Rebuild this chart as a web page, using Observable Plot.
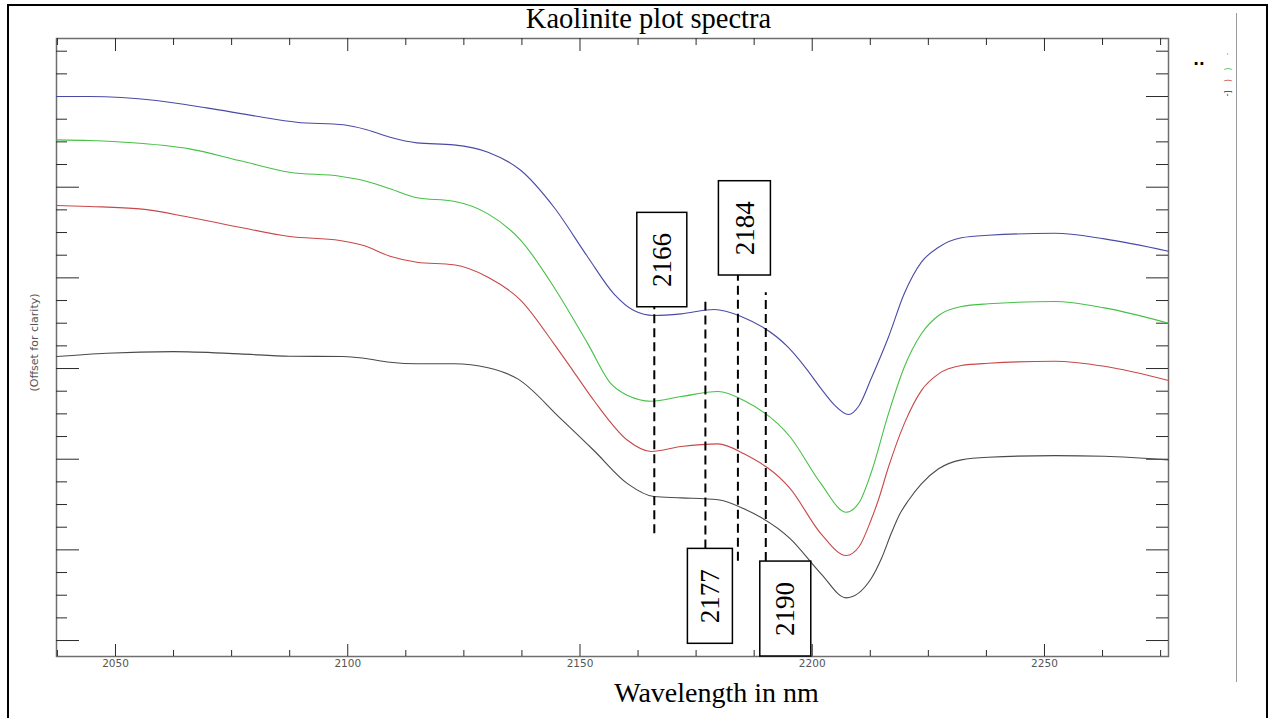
<!DOCTYPE html>
<html>
<head>
<meta charset="utf-8">
<script src="https://cdn.jsdelivr.net/npm/d3@7"></script>
<script src="https://cdn.jsdelivr.net/npm/@observablehq/plot@0.6"></script>
<style>
  html, body { margin: 0; padding: 0; background: #fff; overflow: hidden; }
  #chart { position: relative; width: 1273px; height: 718px; }
  #chart svg { position: absolute; left: 0; top: 0; }
  .border { position: absolute; left: 7px; top: 4px; width: 1257px; height: 740px; border: 2px solid #000; }
  .sep { position: absolute; left: 1236px; top: 13px; width: 1px; height: 669px; background: #9a9a9a; }
</style>
</head>
<body>
<div id="chart"></div>
<script>
// Kaolinite reflectance spectra (stacked with an offset), wavelength in nm
const s1Nm  = [2037.3, 2044.4, 2058.8, 2069.6, 2080.4, 2089.0, 2099.1, 2104.1, 2109.1, 2114.9, 2122.8, 2130.2, 2137.3, 2144.4, 2151.7, 2157.3, 2161.6, 2165.9, 2171.8, 2178.9, 2184.7, 2194.8, 2198.7, 2201.9, 2204.7, 2207.8, 2210.1, 2212.7, 2216.4, 2219.8, 2223.5, 2227.2, 2232.1, 2237.9, 2252.2, 2262.9, 2276.7];
const s1Val = [0.800, 0.800, 0.7956, 0.7875, 0.7783, 0.7717, 0.7688, 0.7633, 0.7551, 0.7489, 0.7467, 0.7386, 0.7184, 0.6779, 0.6228, 0.5824, 0.5640, 0.5585, 0.5603, 0.5651, 0.5574, 0.5235, 0.5000, 0.4779, 0.4603, 0.4493, 0.4592, 0.4890, 0.5345, 0.5824, 0.6173, 0.6338, 0.6442, 0.6470, 0.6492, 0.6430, 0.6294];

const s2Nm  = [2037.3, 2044.4, 2055.2, 2065.9, 2076.7, 2087.5, 2098.3, 2103.4, 2109.1, 2114.9, 2122.8, 2130.2, 2137.3, 2144.4, 2151.7, 2156.7, 2160.3, 2165.3, 2171.8, 2179.7, 2185.3, 2195.3, 2201.9, 2207.3, 2210.1, 2212.7, 2216.4, 2219.8, 2223.5, 2227.2, 2232.1, 2237.9, 2252.2, 2262.9, 2276.7];
const s2Val = [0.7522, 0.7515, 0.7485, 0.7423, 0.7294, 0.7165, 0.7121, 0.7074, 0.6982, 0.6883, 0.6845, 0.6706, 0.6412, 0.5897, 0.5272, 0.4831, 0.4702, 0.4639, 0.4691, 0.4746, 0.4647, 0.4242, 0.3728, 0.3415, 0.3522, 0.3853, 0.4500, 0.5014, 0.5383, 0.5585, 0.5684, 0.5714, 0.5739, 0.5669, 0.5500];

const s3Nm  = [2037.3, 2044.4, 2055.2, 2065.9, 2076.7, 2087.5, 2098.3, 2103.4, 2109.1, 2114.9, 2122.8, 2130.2, 2137.3, 2144.4, 2148.7, 2153.0, 2160.3, 2165.3, 2171.8, 2179.7, 2185.3, 2195.3, 2201.9, 2207.3, 2210.1, 2212.7, 2214.2, 2216.4, 2219.8, 2223.5, 2227.2, 2232.1, 2237.9, 2252.2, 2262.9, 2276.7];
const s3Val = [0.6798, 0.6787, 0.6761, 0.6669, 0.6558, 0.6456, 0.6412, 0.6357, 0.6239, 0.6173, 0.6144, 0.6007, 0.5750, 0.5272, 0.4961, 0.4647, 0.4206, 0.4085, 0.4140, 0.4169, 0.4059, 0.3673, 0.3177, 0.2938, 0.3037, 0.3335, 0.3544, 0.3911, 0.4390, 0.4757, 0.4941, 0.5033, 0.5058, 0.5081, 0.5025, 0.4868];

const s4Nm  = [2037.3, 2048.1, 2062.5, 2076.7, 2087.5, 2099.1, 2103.4, 2109.1, 2114.9, 2122.8, 2130.2, 2136.6, 2145.9, 2153.0, 2160.3, 2165.9, 2171.8, 2179.7, 2185.3, 2195.3, 2201.9, 2207.3, 2212.7, 2214.9, 2217.0, 2218.8, 2220.7, 2223.5, 2227.2, 2232.1, 2237.9, 2252.2, 2262.9, 2276.7];
const s4Val = [0.5132, 0.5169, 0.5187, 0.5162, 0.5136, 0.5132, 0.5114, 0.5069, 0.5052, 0.5052, 0.5008, 0.4886, 0.4445, 0.4096, 0.3728, 0.3588, 0.3574, 0.3552, 0.3453, 0.3122, 0.2736, 0.2471, 0.2684, 0.2904, 0.3180, 0.3390, 0.3544, 0.3728, 0.3894, 0.3993, 0.4022, 0.4040, 0.4033, 0.3993];

// Absorption features marked on the plot
const featureNm = [2166, 2177, 2184, 2190];

// Axis ticks
const xTickLabels = [2050, 2100, 2150, 2200, 2250];
const yMajorTicks = [0.2, 0.3, 0.4, 0.5, 0.6, 0.7, 0.8];

const titleText = "Kaolinite plot spectra";
const xTitle = "Wavelength in nm";
const yTitle = "(Offset for clarity)";

// ---- layout ----
const W = 1273, H = 718;
const M = {top: 38, right: 105, bottom: 62, left: 56};
const frameW = W - M.left - M.right, frameH = H - M.top - M.bottom;
const xDomain = [2037.3, 2276.7], yDomain = [0.1824, 0.8640];
const pxPerNm = frameW / (xDomain[1] - xDomain[0]);

const series = [
  {nm: s1Nm, val: s1Val, color: "#4a4aa6"},
  {nm: s2Nm, val: s2Val, color: "#46c046"},
  {nm: s3Nm, val: s3Val, color: "#c84848"},
  {nm: s4Nm, val: s4Val, color: "#4a4a4a"}
];

// per-feature annotation layout: dashed line extent, label box extent, box offset/width (px)
const featureLayout = [
  {line: [0.3177, 0.5676], box: [0.5676, 0.6717], dx: 8,  w: 50},
  {line: [0.3011, 0.5731], box: [0.1964, 0.3011], dx: 5,  w: 45},
  {line: [0.2875, 0.6026], box: [0.6026, 0.7066], dx: 7,  w: 52},
  {line: [0.2871, 0.5835], box: [0.1824, 0.2871], dx: 20, w: 51}
];
const features = featureNm.map((nm, i) => ({nm, label: String(nm), ...featureLayout[i]}));

const xMinor = d3.range(2037.5, 2276, 12.5).filter(v => !xTickLabels.includes(v));
const yMinor = d3.range(0, 27).map(k => +(0.2 + 0.025 * k).toFixed(3)).filter(v => !yMajorTicks.some(m => Math.abs(m - v) < 1e-6));

const tickStroke = "#2a2a2a";
const serif = "Liberation Serif, Times New Roman, serif";
const sans = "DejaVu Sans, sans-serif";

const plot = Plot.plot({
  width: W,
  height: H,
  marginTop: M.top, marginRight: M.right, marginBottom: M.bottom, marginLeft: M.left,
  style: {background: "transparent", fontFamily: sans},
  x: {domain: xDomain, label: null, axis: null},
  y: {domain: yDomain, label: null, axis: null},
  marks: [
    Plot.frame({stroke: "#6e6e6e", strokeWidth: 1.5}),

    // inward ticks on all four sides
    Plot.tickX(xMinor, {x: d => d, insetTop: frameH - 6, stroke: tickStroke}),
    Plot.tickX(xTickLabels, {x: d => d, insetTop: frameH - 12, stroke: tickStroke}),
    Plot.tickX(xMinor, {x: d => d, insetBottom: frameH - 7, stroke: tickStroke}),
    Plot.tickX(xTickLabels, {x: d => d, insetBottom: frameH - 13, stroke: tickStroke}),
    Plot.tickY(yMinor, {y: d => d, insetRight: frameW - 11, stroke: tickStroke}),
    Plot.tickY(yMajorTicks, {y: d => d, insetRight: frameW - 23, stroke: tickStroke}),
    Plot.tickY(yMinor, {y: d => d, insetLeft: frameW - 12, stroke: tickStroke}),
    Plot.tickY(yMajorTicks, {y: d => d, insetLeft: frameW - 22, stroke: tickStroke}),

    Plot.axisX(xTickLabels, {anchor: "bottom", tickSize: 0, tickPadding: 3, tickFormat: d => String(d),
      fontSize: 10.5, fill: "#555", label: null}),

    // spectra
    ...series.map(s => Plot.line(s.nm.map((n, i) => ({nm: n, r: s.val[i]})),
      {x: "nm", y: "r", stroke: s.color, strokeWidth: 1.1, curve: "monotone-x"})),

    // feature markers
    Plot.ruleX(features, {x: "nm", y1: d => d.line[0], y2: d => d.line[1],
      stroke: "#000", strokeWidth: 2, strokeDasharray: "9,5"}),
    Plot.rect(features, {
      x1: d => d.nm + (d.dx - d.w / 2) / pxPerNm,
      x2: d => d.nm + (d.dx + d.w / 2) / pxPerNm,
      y1: d => d.box[0], y2: d => d.box[1],
      fill: "#fff", stroke: "#000", strokeWidth: 1.5}),
    Plot.text(features, {
      x: d => d.nm + d.dx / pxPerNm, y: d => (d.box[0] + d.box[1]) / 2,
      text: "label", rotate: -90, fontSize: 27, fontFamily: serif, fill: "#000"}),

    // titles
    Plot.text([titleText], {frameAnchor: "top", dx: 36, dy: -20, lineAnchor: "middle", textAnchor: "middle",
      fontSize: 28.5, fontFamily: serif, fill: "#000"}),
    Plot.text([xTitle], {frameAnchor: "bottom", dx: 104, dy: 37, lineAnchor: "middle", textAnchor: "middle",
      fontSize: 28, fontFamily: serif, fill: "#000"}),
    Plot.text([yTitle], {frameAnchor: "left", dx: -22, dy: -5, lineAnchor: "middle", textAnchor: "middle",
      rotate: -90, fontSize: 11, fontFamily: sans, fill: "#555"}),

    // clipped legend remnants at the right edge
    Plot.text([".."], {frameAnchor: "top-right", dx: 30.5, dy: 22, lineAnchor: "middle", textAnchor: "middle",
      fontSize: 15, fontWeight: "bold", fill: "#000"}),
    Plot.text(["-"], {frameAnchor: "top-right", dx: 58.7, dy: 15.5, lineAnchor: "middle", textAnchor: "middle",
      rotate: 90, fontSize: 8, fill: "#9aa0d8"}),
    Plot.text(["("], {frameAnchor: "top-right", dx: 58.7, dy: 30.5, lineAnchor: "middle", textAnchor: "middle",
      rotate: 90, fontSize: 8, fill: "#46c046"}),
    Plot.text(["("], {frameAnchor: "top-right", dx: 58.7, dy: 42, lineAnchor: "middle", textAnchor: "middle",
      rotate: 90, fontSize: 8, fill: "#c84848"}),
    Plot.text(["[-"], {frameAnchor: "top-right", dx: 58.7, dy: 55, lineAnchor: "middle", textAnchor: "middle",
      rotate: 90, fontSize: 8, fill: "#333"})
  ]
});

const chart = document.getElementById("chart");
chart.appendChild(plot);
const border = document.createElement("div");
border.className = "border";
chart.appendChild(border);
const sep = document.createElement("div");
sep.className = "sep";
chart.appendChild(sep);
</script>
</body>
</html>
